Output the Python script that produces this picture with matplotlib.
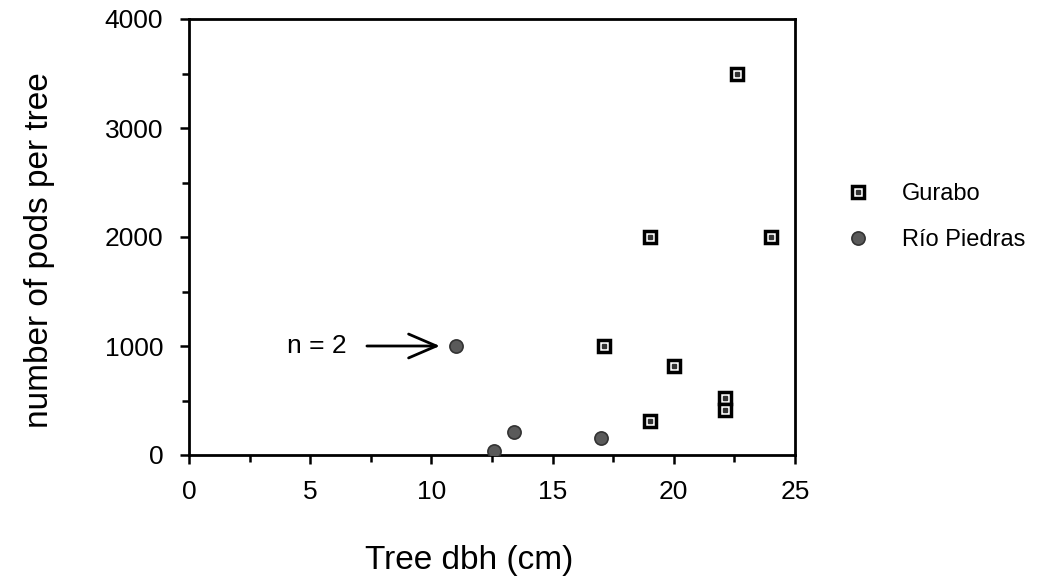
import matplotlib.pyplot as plt
from matplotlib.ticker import MultipleLocator

plt.rcParams['font.family'] = ['Liberation Sans', 'DejaVu Sans']

# Gurabo site
gurabo_dbh = [22.6, 19.0, 24.0, 17.1, 20.0, 22.1, 22.1, 19.0]
gurabo_pods = [3500, 2000, 2000, 1000, 820, 520, 410, 310]

# Rio Piedras site
rp_dbh = [11.0, 13.4, 17.0, 12.6]
rp_pods = [1000, 210, 160, 40]

W, H = 1040, 582
fig = plt.figure(figsize=(W / 100, H / 100), dpi=100)
ax = fig.add_axes([189 / W, 1 - 455 / H, 606 / W, 436 / H])

g, = ax.plot(gurabo_dbh, gurabo_pods, ls='none', marker='s', ms=8.3, mfc='white',
             mec='black', mew=2.5, zorder=3)
gd, = ax.plot(gurabo_dbh, gurabo_pods, ls='none', marker='s', ms=2.6, color='#333333', zorder=4)
r, = ax.plot(rp_dbh, rp_pods, ls='none', marker='o', ms=9.5, mfc='#5a5a5a', mec='#333333',
             mew=1.2, zorder=3)

# arrow pointing at the doubled point
ax.annotate('', xy=(10.35, 1000), xytext=(7.34, 1000),
            arrowprops=dict(arrowstyle='->,head_length=1.0,head_width=0.43',
                            color='black', lw=2, mutation_scale=20,
                            shrinkA=0, shrinkB=0))
ax.text(4.04, 1000, 'n = 2', ha='left', va='center', fontsize=19)

ax.set_xlim(0, 25)
ax.set_ylim(0, 4000)
ax.xaxis.set_major_locator(MultipleLocator(5))
ax.xaxis.set_minor_locator(MultipleLocator(2.5))
ax.yaxis.set_major_locator(MultipleLocator(1000))
ax.yaxis.set_minor_locator(MultipleLocator(500))
ax.tick_params(which='major', direction='out', length=6.5, width=1.8, labelsize=19)
ax.tick_params(which='minor', direction='out', length=5, width=1.8)
ax.tick_params(axis='y', pad=12)
ax.tick_params(axis='x', pad=11.5)
for s in ax.spines.values():
    s.set_linewidth(2)

fig.text(469 / W, 1 - 560 / H, 'Tree dbh (cm)', fontsize=24, ha='center', va='center')
fig.text(40 / W, 1 - 250 / H, 'number of pods per tree', fontsize=24, ha='center',
         va='center', rotation=90)

# legend outside the box, sitting on the right
leg = fig.legend([(g, gd), r], ['Gurabo', 'Río Piedras'], loc='center left',
                 bbox_to_anchor=(837 / W, 1 - 217 / H), frameon=False,
                 fontsize=17, handlelength=1.0, handletextpad=1.35,
                 labelspacing=1.0, borderaxespad=0)

fig.savefig('out.png', dpi=100)
